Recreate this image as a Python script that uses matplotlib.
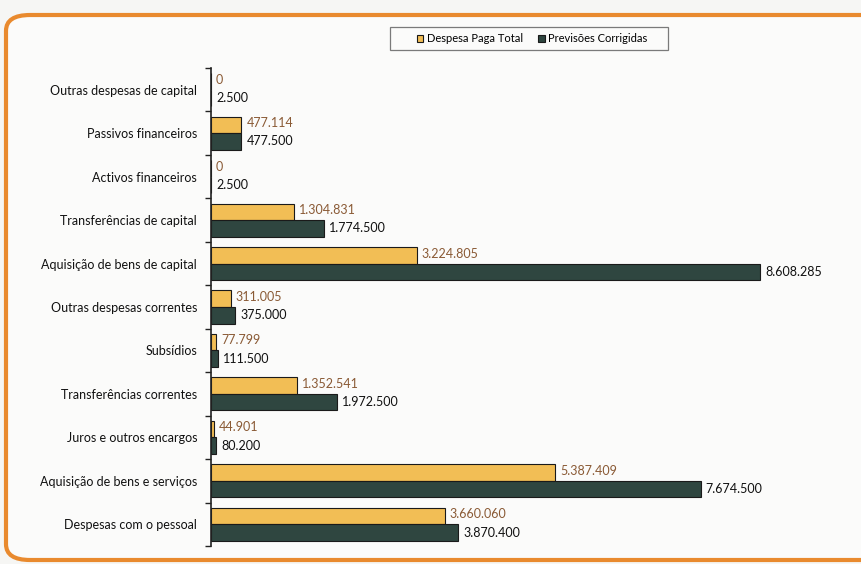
import matplotlib
matplotlib.use("Agg")
import matplotlib.pyplot as plt
from matplotlib.patches import FancyBboxPatch, Rectangle
import numpy as np

plt.rcParams['font.family'] = ['Lato', 'DejaVu Sans']

categories = [
    "Outras despesas de capital",
    "Passivos financeiros",
    "Activos financeiros",
    "Transferências de capital",
    "Aquisição de bens de capital",
    "Outras despesas correntes",
    "Subsídios",
    "Transferências correntes",
    "Juros e outros encargos",
    "Aquisição de bens e serviços",
    "Despesas com o pessoal",
]
despesa_paga = [0, 477114, 0, 1304831, 3224805, 311005, 77799, 1352541, 44901, 5387409, 3660060]
previsoes = [2500, 477500, 2500, 1774500, 8608285, 375000, 111500, 1972500, 80200, 7674500, 3870400]
series_names = ["Despesa Paga Total", "Previsões Corrigidas"]

def fmt(v):
    return f"{v:,}".replace(",", ".")

W, H = 861, 564
fig = plt.figure(figsize=(W/100, H/100), dpi=100)
fig.patch.set_facecolor("#F6F6F4")

# orange rounded frame
frame = FancyBboxPatch((6/W, 4/H), 900/W, 545/H,
                       boxstyle="round,pad=0,rounding_size=0.028",
                       transform=fig.transFigure, facecolor="#FBFBFA",
                       edgecolor="#E98A2E", linewidth=3, zorder=-5)
fig.patches.append(frame)

# legend box
lbox = Rectangle((390/W, 1-50/H), 278/W, 23/H, transform=fig.transFigure,
                 facecolor="#FBFBFA", edgecolor="#7a7a7a", linewidth=0.9, zorder=-4)
fig.patches.append(lbox)

ax = fig.add_axes([211/W, 1-546/H, 640/W, (546-68)/H], zorder=2)
ax.set_facecolor("none")

n = len(categories)
y = np.arange(n)[::-1].astype(float)
bh = 0.38
c_yel = "#F2BE55"
c_dark = "#2F4640"

b1 = ax.barh(y + bh/2, despesa_paga, height=bh, color=c_yel, edgecolor="#1a1a1a", linewidth=0.8,
             label=series_names[0], zorder=2)
b2 = ax.barh(y - bh/2, previsoes, height=bh, color=c_dark, edgecolor="#1a1a1a", linewidth=0.8,
             label=series_names[1], zorder=2)

xmax = 10.03e6
ax.set_xlim(0, xmax)
ax.set_ylim(-0.5, n - 0.5)

off = xmax * 0.008
for yi, v in zip(y, despesa_paga):
    ax.text(v + off, yi + bh/2 + 0.04, fmt(v), va="center", ha="left", fontsize=9, color="#8A5A35")
for yi, v in zip(y, previsoes):
    ax.text(v + off, yi - bh/2 + 0.0, fmt(v), va="center", ha="left", fontsize=9, color="#111111")

ax.set_yticks(y)
ax.set_yticklabels(categories, fontsize=9, color="#111111")
ax.tick_params(axis="y", length=0, pad=10)
ax.set_yticks(np.arange(-0.5, n, 1.0), minor=True)
ax.tick_params(axis="y", which="minor", length=4, width=1, color="#222222")
ax.set_xticks([])
for s in ["top", "right", "bottom"]:
    ax.spines[s].set_visible(False)
ax.spines["left"].set_linewidth(1.2)
ax.spines["left"].set_color("#222222")

leg = fig.legend(handles=[b1, b2], labels=series_names, loc="center",
                 bbox_to_anchor=(532/W, 1-38.5/H), ncol=2, fontsize=8,
                 frameon=False,
                 handlelength=0.6, handleheight=0.6, handletextpad=0.3,
                 columnspacing=1.4, borderpad=0.0, borderaxespad=0)
leg.set_zorder(5)

fig.savefig("out.png", dpi=100, facecolor=fig.get_facecolor())
